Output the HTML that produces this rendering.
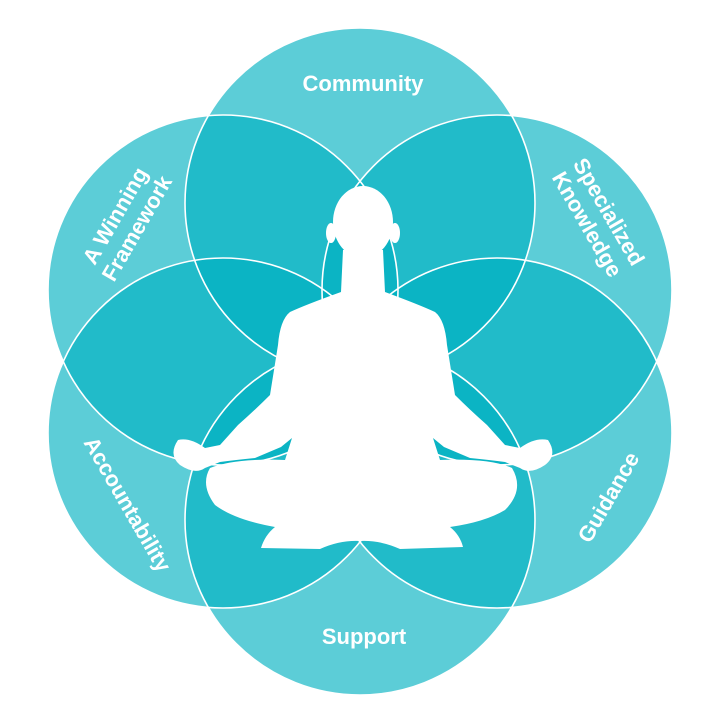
<!DOCTYPE html>
<html><head><meta charset="utf-8"><style>
html,body{margin:0;padding:0;background:#fff;}
svg{display:block}
text{font-family:"Liberation Sans",Arial,sans-serif;font-weight:bold;fill:#fff;font-size:22px;text-anchor:middle;}
</style></head><body>
<svg width="720" height="720" viewBox="0 0 720 720">
<g fill="rgb(0,177,192)" fill-opacity="0.64">
<circle cx="360" cy="203" r="175"/>
<circle cx="497" cy="290" r="175"/>
<circle cx="497" cy="433" r="175"/>
<circle cx="360" cy="520" r="175"/>
<circle cx="223" cy="433" r="175"/>
<circle cx="223" cy="290" r="175"/>
</g>
<g fill="none" stroke="#fff" stroke-width="1.6">
<circle cx="360" cy="203" r="175"/>
<circle cx="497" cy="290" r="175"/>
<circle cx="497" cy="433" r="175"/>
<circle cx="360" cy="520" r="175"/>
<circle cx="223" cy="433" r="175"/>
<circle cx="223" cy="290" r="175"/>
</g>
<!-- figure -->
<g fill="#fff">
<ellipse cx="363" cy="222" rx="30" ry="36"/>
<ellipse cx="331" cy="233" rx="5" ry="10"/>
<ellipse cx="395" cy="233" rx="5" ry="10"/>
<path d="M343 250 L383 250 L385 292 Q420 305 435 312 Q445 320 447 345 L455 395 Q470 410 487 425 L505 445 L520 448 Q535 437 548 440 Q558 455 545 465 Q530 475 520 468 L505 462 Q490 460 470 458 L444 447 L433 438 L440 460 Q490 458 512 468 Q525 490 505 510 Q485 522 450 527 Q460 535 463 547 L400 549 Q380 540 360 541 Q340 540 320 549 L261 548 Q265 535 275 527 Q235 520 215 505 Q200 485 210 468 Q235 458 285 460 L292 438 L281 447 L255 458 Q235 460 220 462 L205 468 Q195 475 180 465 Q168 455 178 440 Q190 437 205 448 L220 445 L238 425 Q255 410 270 395 L278 345 Q280 320 290 312 Q305 305 341 292 Z"/>
</g>
<text x="363" y="91">Community</text>
<text x="364" y="644">Support</text>
<text transform="translate(126,222) rotate(-60)" y="-5">A Winning</text>
<text transform="translate(126,222) rotate(-60)" y="20">Framework</text>
<text transform="translate(598,218) rotate(60)" y="-5">Specialized</text>
<text transform="translate(598,218) rotate(60)" y="20">Knowledge</text>
<text transform="translate(128,504) rotate(60)" y="8">Accountability</text>
<text transform="translate(608,497) rotate(-60)" y="8">Guidance</text>
</svg>
</body></html>
